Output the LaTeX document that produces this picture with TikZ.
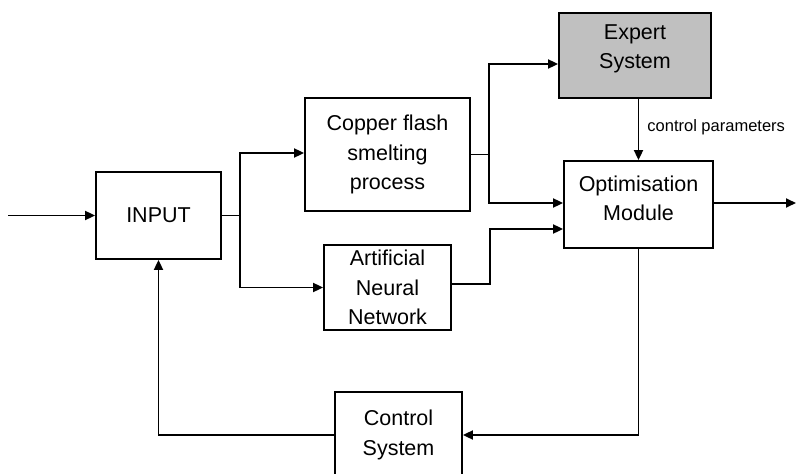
\documentclass[tikz,border=0pt]{standalone}
\usepackage{fontspec}
\setmainfont{Liberation Sans}
\usetikzlibrary{arrows.meta}
\definecolor{esgray}{HTML}{C0C0C0}
\tikzset{
  box/.style={draw, line width=1.8pt, rectangle, inner sep=0pt, align=center,
    font=\fontsize{21.5}{29.5}\selectfont},
  txt/.style={inner sep=0pt, align=center, font=\fontsize{21.5}{28.5}\selectfont},
  arr/.style={line width=1.8pt, -{Triangle[length=10pt,width=9pt]}},
  ln/.style={line width=1.8pt},
  lbl/.style={inner sep=0pt, font=\fontsize{16.5}{19}\selectfont}
}
\begin{document}
\begin{tikzpicture}[x=1pt,y=-1pt]
\useasboundingbox (0,0) rectangle (796,474);
\begin{scope}
\clip (0,0) rectangle (796,474);
% boxes
\node[box, minimum width=125pt, minimum height=87pt] (in) at (158.5,215.5) {INPUT};
\node[box, minimum width=165pt, minimum height=113pt] (cu) at (387.5,154.5) {Copper flash\\smelting\\process};
\node[box, fill=esgray, minimum width=152pt, minimum height=85pt] (es) at (635,55.5) {};
\node[txt] (est) at (635,49) {Expert\\System};
\node[box, minimum width=149pt, minimum height=87pt] (op) at (638.5,204.5) {};
\node[txt] (opt) at (638.5,198.5) {Optimisation\\Module};
\node[box, minimum width=127pt, minimum height=85pt] (ann) at (387.5,287.5) {Artificial\\Neural\\Network};
\node[box, minimum width=127pt, minimum height=86pt] (cs) at (398.5,435) {Control\\System};
% junctions and free ends
\coordinate (src) at (8,215.5);
\coordinate (j1) at (240,215.5);
\coordinate (j2) at (489,154.5);
\coordinate (out) at (796,203);
% connectors
\draw[arr] (src) -- (in.west);
\draw[ln] (in.east) -- (j1);
\draw[arr] (j1) |- ([yshift=1.5pt]cu.west);
\draw[arr] (j1) |- (ann.west);
\draw[ln] (cu.east) -- (j2);
\draw[arr] (j2) |- ([yshift=-8.5pt]es.west);
\draw[arr] (j2) |- ([yshift=1.5pt]op.west);
\draw[arr] ([yshift=3.5pt]ann.east) -- ++(38,0) |- ([yshift=-24.5pt]op.west);
\draw[arr] (es.south -| op.north) -- (op.north) node[lbl, pos=0.47, anchor=west, xshift=8pt] (cp) {control parameters};
\draw[arr] ([yshift=1.5pt]op.east) -- (out);
\draw[arr] (op.south) |- (cs.east);
\draw[arr] (cs.west) -| (in.south);
\end{scope}
\end{tikzpicture}
\end{document}
